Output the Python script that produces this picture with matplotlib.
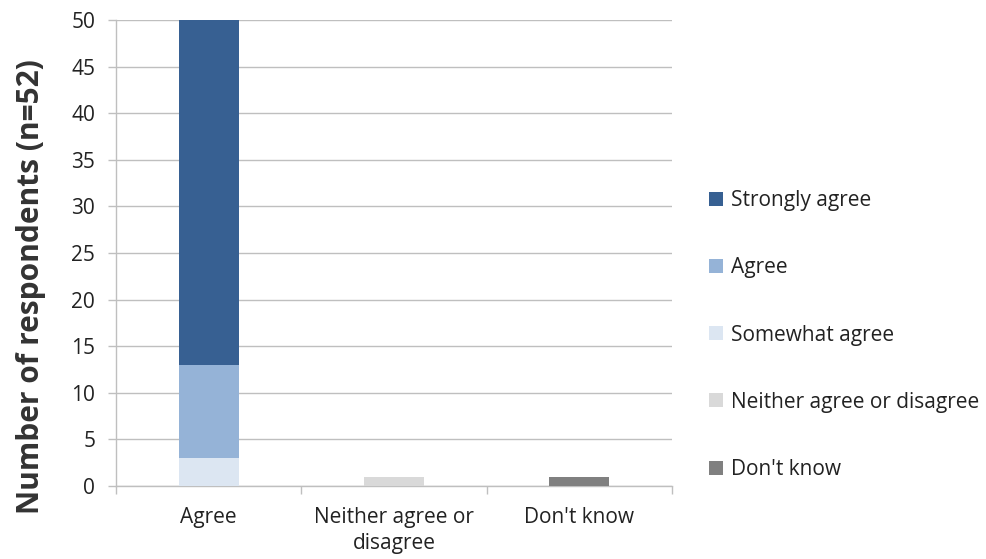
import numpy as np
import matplotlib.pyplot as plt
from matplotlib.patches import Patch

plt.rcParams['font.family'] = ['Open Sans', 'DejaVu Sans']

categories = ["Agree", "Neither agree or\ndisagree", "Don't know"]
responses = ["Somewhat agree", "Agree", "Strongly agree",
             "Neither agree or disagree", "Don't know"]
somewhat_agree = [3, 0, 0]
agree = [10, 0, 0]
strongly_agree = [37, 0, 0]
neither = [0, 1, 0]
dont_know = [0, 0, 1]
colors = {
    "Strongly agree": "#376092",
    "Agree": "#95B3D7",
    "Somewhat agree": "#DCE6F2",
    "Neither agree or disagree": "#D9D9D9",
    "Don't know": "#808080",
}
yticks = np.arange(0, 51, 5)

series = [somewhat_agree, agree, strongly_agree, neither, dont_know]

fig = plt.figure(figsize=(9.87, 5.59), dpi=100)
ax = fig.add_axes([116 / 987, 1 - 486 / 559, (672 - 116) / 987, (486 - 20) / 559])

x = np.arange(len(categories))
bottom = np.zeros(len(categories))
for name, vals in zip(responses, series):
    vals = np.array(vals, dtype=float)
    ax.bar(x, vals, width=0.324, bottom=bottom, color=colors[name],
           zorder=3, linewidth=0)
    bottom += vals

grid_c = "#BFBFBF"
ax.set_xlim(-0.5, len(categories) - 0.5)
ax.set_ylim(0, 50)
ax.set_yticks(yticks)
ax.yaxis.grid(True, color=grid_c, linewidth=1, zorder=0)
ax.set_xticks(x)
ax.set_xticklabels(categories, fontsize=15, color="#222222", linespacing=1.3)
ax.set_xticks(np.arange(len(categories) + 1) - 0.5, minor=True)
ax.tick_params(axis='x', which='major', length=0, pad=15)
ax.tick_params(axis='x', which='minor', length=6, color=grid_c, width=1)
ax.tick_params(axis='y', length=6, color=grid_c, width=1, pad=9,
               labelsize=15, labelcolor="#222222")
for side in ("top", "right"):
    ax.spines[side].set_visible(False)
for side in ("left", "bottom"):
    ax.spines[side].set_color(grid_c)
    ax.spines[side].set_linewidth(1)

fig.text(31 / 987, 1 - 287 / 559, "Number of respondents (n=52)",
         rotation=90, ha='center', va='center', fontsize=21.5,
         fontweight='bold', color="#333333")

legend_order = ["Strongly agree", "Agree", "Somewhat agree",
                "Neither agree or disagree", "Don't know"]
handles = [Patch(facecolor=colors[n], edgecolor='none') for n in legend_order]
fig.legend(handles, legend_order, loc='center left',
           bbox_to_anchor=(703 / 987, 1 - 335 / 559), frameon=False,
           fontsize=15, handlelength=0.65, handleheight=0.65,
           handletextpad=0.4, labelspacing=2.22, labelcolor="#222222",
           borderaxespad=0, borderpad=0.3)

fig.savefig("out.png", dpi=100)
